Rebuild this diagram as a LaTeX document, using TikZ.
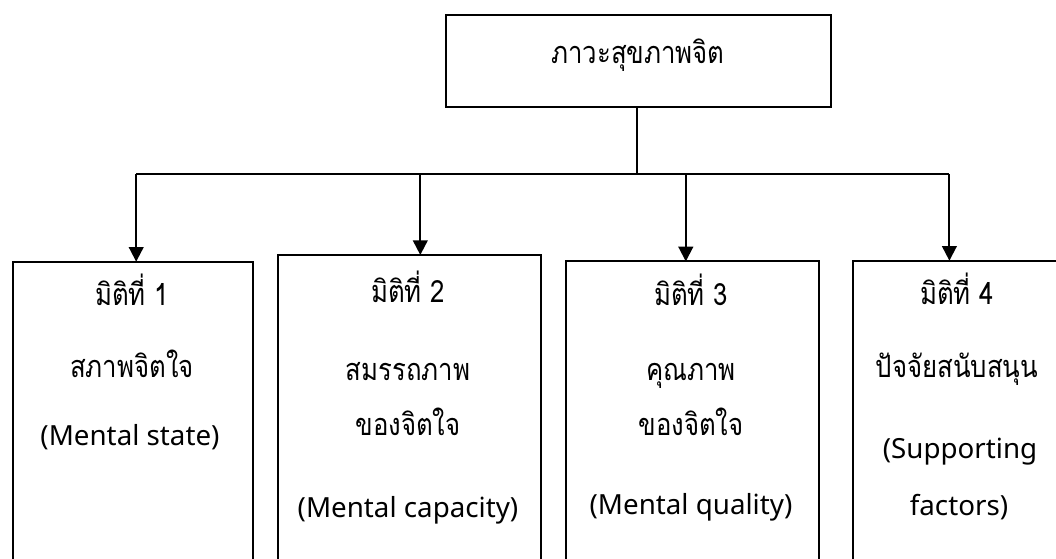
\documentclass[tikz,border=0pt]{standalone}
\usepackage{fontspec}
\setmainfont{Noto Sans}
\newfontfamily\thaifont[Script=Thai,FakeStretch=0.84]{Loma}
\usetikzlibrary{arrows.meta,fit}
\begin{document}
\begin{tikzpicture}[x=0.75pt,y=-0.75pt,
  frame/.style={draw,line width=1.5pt,inner sep=0pt,outer sep=0pt},
  wire/.style={line width=1.5pt},
  conn/.style={line width=1.5pt,-{Triangle[length=11pt,width=11pt]}},
  lbl/.style={anchor=base,inner sep=0pt,font=\fontsize{20.8pt}{25pt}\selectfont},
  th/.style={lbl,font=\fontsize{23pt}{27pt}\selectfont\thaifont}]
\useasboundingbox (0,0) rectangle (1056,559);
\clip (0,0) rectangle (1056,559);

% root box
\node[frame,fit={(446,15.3) (831,107.3)}] (top) {};
\node[th] (toptext) at (638,64) {ภาวะสุขภาพจิต};

% four dimension boxes (open at the bottom of the page)
\node[frame,fit={(13,261.7) (253,600)}] (b1) {};
\node[frame,fit={(277.6,255) (540.5,600)}] (b2) {};
\node[frame,fit={(565.5,261.4) (819,600)}] (b3) {};
\node[frame,fit={(853.3,260.7) (1080,600)}] (b4) {};

% bus and branches
\coordinate (s) at (637,174);
\coordinate (j1) at (136.2,174);
\coordinate (j2) at (420.3,174);
\coordinate (j3) at (685.8,174);
\coordinate (j4) at (949.4,174);
\draw[wire] (s |- top.south) -- (s);
\draw[wire] (j1) -- (j4);
\draw[conn] (j1) -- (j1 |- b1.north);
\draw[conn] (j2) -- (j2 |- b2.north);
\draw[conn] (j3) -- (j3 |- b3.north);
\draw[conn] (j4) -- (j4 |- b4.north);

% box 1
\node[th] (t11) at (132,306) {มิติที่ 1};
\node[th] (t12) at (132,378) {สภาพจิตใจ};
\node[lbl] (t13) at (130,445) {(Mental state)};
% box 2
\node[th] (t21) at (408,303) {มิติที่ 2};
\node[th] (t22) at (408,381) {สมรรถภาพ};
\node[th] (t23) at (408,435) {ของจิตใจ};
\node[lbl] (t24) at (408,517) {(Mental capacity)};
% box 3
\node[th] (t31) at (691,306) {มิติที่ 3};
\node[th] (t32) at (691,380) {คุณภาพ};
\node[th] (t33) at (691,435) {ของจิตใจ};
\node[lbl] (t34) at (691,514) {(Mental quality)};
% box 4
\node[th] (t41) at (957,305) {มิติที่ 4};
\node[th] (t42) at (957,378) {ปัจจัยสนับสนุน};
\node[lbl] (t43) at (960,458) {(Supporting};
\node[lbl] (t44) at (959,515) {factors)};
\end{tikzpicture}
\end{document}
